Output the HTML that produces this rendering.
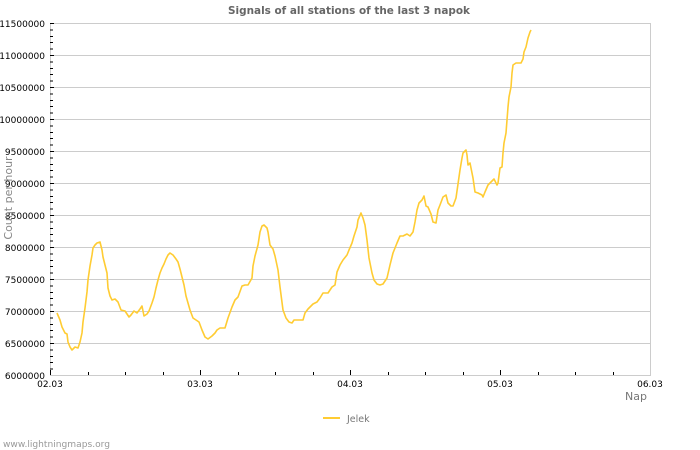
<!DOCTYPE html>
<html><head><meta charset="utf-8"><style>
html,body{margin:0;padding:0;background:#fff;}
svg{display:block;}
text{font-family:"DejaVu Sans","Liberation Sans",sans-serif;}
</style></head><body>
<svg width="700" height="450" viewBox="0 0 700 450" xmlns="http://www.w3.org/2000/svg">
<rect width="700" height="450" fill="#fff"/>
<text x="349" y="14" text-anchor="middle" font-size="10.5" font-weight="bold" fill="#666" textLength="242" lengthAdjust="spacingAndGlyphs">Signals of all stations of the last 3 napok</text>
<g stroke="#cccccc" stroke-width="1" shape-rendering="crispEdges">
<line x1="50" y1="23.5" x2="650" y2="23.5"/>
<line x1="50" y1="55.5" x2="650" y2="55.5"/>
<line x1="50" y1="87.5" x2="650" y2="87.5"/>
<line x1="50" y1="119.5" x2="650" y2="119.5"/>
<line x1="50" y1="151.5" x2="650" y2="151.5"/>
<line x1="50" y1="183.5" x2="650" y2="183.5"/>
<line x1="50" y1="215.5" x2="650" y2="215.5"/>
<line x1="50" y1="247.5" x2="650" y2="247.5"/>
<line x1="50" y1="279.5" x2="650" y2="279.5"/>
<line x1="50" y1="311.5" x2="650" y2="311.5"/>
<line x1="50" y1="343.5" x2="650" y2="343.5"/>
<line x1="50" y1="375.5" x2="650" y2="375.5"/>
<line x1="50.5" y1="23" x2="50.5" y2="376"/>
<line x1="650.5" y1="23" x2="650.5" y2="376"/>
</g>
<g stroke="#000" stroke-width="1" shape-rendering="crispEdges">
<line x1="50.5" y1="370" x2="50.5" y2="375"/>
<line x1="88.5" y1="372" x2="88.5" y2="375"/>
<line x1="125.5" y1="372" x2="125.5" y2="375"/>
<line x1="163.5" y1="372" x2="163.5" y2="375"/>
<line x1="200.5" y1="370" x2="200.5" y2="375"/>
<line x1="238.5" y1="372" x2="238.5" y2="375"/>
<line x1="275.5" y1="372" x2="275.5" y2="375"/>
<line x1="313.5" y1="372" x2="313.5" y2="375"/>
<line x1="350.5" y1="370" x2="350.5" y2="375"/>
<line x1="388.5" y1="372" x2="388.5" y2="375"/>
<line x1="425.5" y1="372" x2="425.5" y2="375"/>
<line x1="463.5" y1="372" x2="463.5" y2="375"/>
<line x1="500.5" y1="370" x2="500.5" y2="375"/>
<line x1="538.5" y1="372" x2="538.5" y2="375"/>
<line x1="575.5" y1="372" x2="575.5" y2="375"/>
<line x1="613.5" y1="372" x2="613.5" y2="375"/>
</g>
<g stroke="#000" stroke-width="1" shape-rendering="crispEdges">
<path d="M50 23.5h4M50 29.9h3M50 36.3h3M50 42.7h3M50 49.1h3M50 55.5h4M50 61.9h3M50 68.3h3M50 74.7h3M50 81.1h3M50 87.5h4M50 93.9h3M50 100.3h3M50 106.7h3M50 113.1h3M50 119.5h4M50 125.9h3M50 132.3h3M50 138.7h3M50 145.1h3M50 151.5h4M50 157.9h3M50 164.3h3M50 170.7h3M50 177.1h3M50 183.5h4M50 189.9h3M50 196.3h3M50 202.7h3M50 209.1h3M50 215.5h4M50 221.9h3M50 228.3h3M50 234.7h3M50 241.1h3M50 247.5h4M50 253.9h3M50 260.3h3M50 266.7h3M50 273.1h3M50 279.5h4M50 285.9h3M50 292.3h3M50 298.7h3M50 305.1h3M50 311.5h4M50 317.9h3M50 324.3h3M50 330.7h3M50 337.1h3M50 343.5h4M50 349.9h3M50 356.3h3M50 362.7h3M50 369.1h3"/>
</g>
<g font-size="9" fill="#000" text-anchor="end">
<text x="45" y="27">11500000</text>
<text x="45" y="59">11000000</text>
<text x="45" y="91">10500000</text>
<text x="45" y="123">10000000</text>
<text x="45" y="155">9500000</text>
<text x="45" y="187">9000000</text>
<text x="45" y="219">8500000</text>
<text x="45" y="251">8000000</text>
<text x="45" y="283">7500000</text>
<text x="45" y="315">7000000</text>
<text x="45" y="347">6500000</text>
<text x="45" y="379">6000000</text>
</g>
<g font-size="9" fill="#000" text-anchor="middle">
<text x="50" y="387">02.03</text>
<text x="200" y="387">03.03</text>
<text x="350" y="387">04.03</text>
<text x="500" y="387">05.03</text>
<text x="650" y="387">06.03</text>
</g>
<text x="647" y="400" font-size="11" fill="#777" text-anchor="end">Nap</text>
<text transform="translate(12,198) rotate(-90)" font-size="11" fill="#888" text-anchor="middle">Count per hour</text>
<polyline fill="none" stroke="#ffcc33" stroke-width="1.6" stroke-linejoin="round" points="57,313 60,320 62,327 64,331 65,333 67,334 68,342 70,347 72,350 74,348 75,347 78,348 80,342 82,333 83,322 85,308 87,292 88,280 90,266 92,255 93,248 95,245 97,243 100,242 102,250 103,257 105,265 107,273 108,288 110,296 112,300 115,299 118,302 121,310 125,311 129,317 131,315 134,311 137,313 140,309 142,306 144,316 147,314 149,311 152,303 154,297 156,288 158,280 160,273 162,268 164,264 166,259 168,255 170,253 173,255 176,259 178,262 180,269 182,277 184,285 186,296 188,303 190,310 193,318 196,320 199,322 202,330 205,337 208,339 212,336 215,333 217,330 220,328 225,328 228,318 232,307 235,300 238,297 242,286 245,285 248,285 252,278 253,266 255,256 258,245 260,232 262,226 264,225 267,228 268,232 270,245 273,249 275,256 278,270 280,287 283,310 286,318 289,322 292,323 294,320 298,320 303,320 305,313 308,309 313,304 317,302 320,298 323,293 328,293 332,287 335,285 337,272 340,265 343,260 347,255 349,250 352,243 354,236 357,227 358,220 361,213 363,218 365,225 367,240 369,258 372,273 374,280 377,284 380,285 383,284 387,278 390,265 393,253 397,243 400,236 403,236 407,234 410,236 413,232 415,222 417,210 419,203 422,200 424,196 426,206 428,207 431,214 433,222 436,223 438,210 440,205 443,197 446,195 448,203 451,206 453,206 456,198 458,184 460,170 462,158 463,153 466,150 467,155 468,165 470,163 473,178 475,192 478,193 482,195 483,197 485,192 488,185 492,181 494,179 497,185 498,183 500,168 502,167 503,153 504,143 506,133 507,120 508,107 509,97 511,87 512,73 513,65 516,63 519,63 521,63 523,59 524,52 526,47 528,38 530,32 531,30"/>
<line x1="323" y1="418" x2="340" y2="418" stroke="#ffcc33" stroke-width="2"/>
<text x="347" y="422" font-size="9.5" fill="#777">Jelek</text>
<text x="3" y="447" font-size="9" fill="#999" textLength="107" lengthAdjust="spacingAndGlyphs">www.lightningmaps.org</text>
</svg>
</body></html>
